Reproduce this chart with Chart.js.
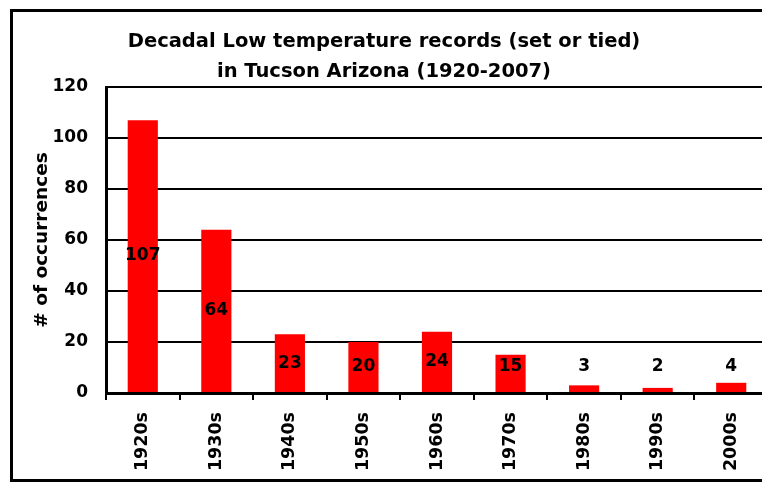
<!DOCTYPE html>
<html>
<head>
<meta charset="utf-8">
<script src="https://cdn.jsdelivr.net/npm/chart.js@4/dist/chart.umd.min.js"></script>
<style>
  html, body { margin: 0; background: #fff; overflow: hidden; }
  #chart { display: block; }
</style>
</head>
<body>
<canvas id="chart" width="768" height="483"></canvas>
<script>
// Dados do gráfico
var decades = ["1920s", "1930s", "1940s", "1950s", "1960s", "1970s", "1980s", "1990s", "2000s"];
var recordCounts = [107, 64, 23, 20, 24, 15, 3, 2, 4];
var yMin = 0;
var yMax = 120;
var yStep = 20;
var titleLines = ["Decadal Low temperature records (set or tied)", "in Tucson Arizona (1920-2007)"];
var yTitle = "# of occurrences";

Chart.defaults.font.family = "'DejaVu Sans', sans-serif";
Chart.defaults.color = "#000";

// Moldura externa (esquerda, topo e base; a direita fica fora da imagem)
var outerFrame = {
  id: "outerFrame",
  beforeDraw: function(chart) {
    var ctx = chart.ctx;
    ctx.save();
    ctx.fillStyle = "#fff";
    ctx.fillRect(0, 0, chart.width, chart.height);
    ctx.strokeStyle = "#000";
    ctx.lineWidth = 3;
    ctx.beginPath();
    ctx.moveTo(chart.width + 5, 10.5);
    ctx.lineTo(11.5, 10.5);
    ctx.lineTo(11.5, 480.5);
    ctx.lineTo(chart.width + 5, 480.5);
    ctx.stroke();
    ctx.restore();
  }
};

// Rótulos de valor dentro das barras (ou logo acima das barras baixas)
var valueLabels = {
  id: "valueLabels",
  afterDatasetsDraw: function(chart) {
    var ctx = chart.ctx;
    var meta = chart.getDatasetMeta(0);
    ctx.save();
    ctx.font = "bold 17px 'DejaVu Sans'";
    ctx.fillStyle = "#000";
    ctx.textAlign = "center";
    ctx.textBaseline = "middle";
    meta.data.forEach(function(bar, i) {
      var y = Math.min((bar.y + bar.base) / 2, bar.base - 25);
      ctx.fillText(String(recordCounts[i]), bar.x, y);
    });
    ctx.restore();
  }
};

var ctx = document.getElementById("chart").getContext("2d");
var chart = new Chart(ctx, {
  type: "bar",
  data: {
    labels: decades,
    datasets: [{
      data: recordCounts,
      backgroundColor: "#ff0000",
      borderWidth: 0,
      barPercentage: 0.41,
      categoryPercentage: 1
    }]
  },
  options: {
    responsive: false,
    animation: false,
    layout: { padding: { left: 0, right: 0, top: 0, bottom: 0 } },
    plugins: {
      legend: { display: false },
      tooltip: { enabled: false },
      title: {
        display: true,
        text: titleLines,
        color: "#000",
        font: { size: 19.5, weight: "bold", lineHeight: 30 / 19.5 },
        padding: { top: 27, bottom: 0 }
      }
    },
    scales: {
      x: {
        grid: {
          display: true,
          drawOnChartArea: false,
          drawTicks: true,
          tickLength: 7,
          color: "#000",
          lineWidth: 2,
          offset: true
        },
        border: { color: "#000", width: 3 },
        ticks: {
          autoSkip: false,
          minRotation: 90,
          maxRotation: 90,
          padding: 12,
          color: "#000",
          font: { size: 17.5, weight: "bold" }
        },
        afterFit: function(scale) { scale.height = 90; }
      },
      y: {
        min: yMin,
        max: yMax,
        grid: { color: "#000", lineWidth: 2, drawTicks: false },
        border: { color: "#000", width: 3 },
        ticks: {
          stepSize: yStep,
          padding: 18,
          color: "#000",
          font: { size: 17, weight: "bold" }
        },
        title: {
          display: true,
          text: yTitle,
          color: "#000",
          font: { size: 18.5, weight: "bold" },
          padding: { top: 31, bottom: 0 }
        },
        afterFit: function(scale) { scale.width = 106; }
      }
    }
  },
  plugins: [outerFrame, valueLabels]
});
</script>
</body>
</html>
